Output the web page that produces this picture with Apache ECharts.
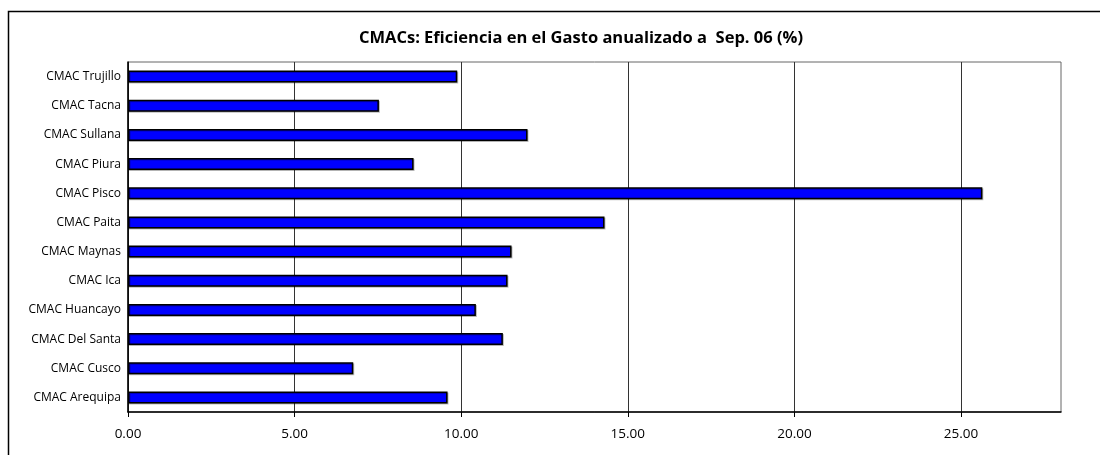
<!DOCTYPE html>
<html>
<head>
<meta charset="utf-8">
<script src="https://cdn.jsdelivr.net/npm/echarts@6/dist/echarts.min.js"></script>
<style>
  html, body { margin: 0; padding: 0; background: #fff; }
  #main { width: 1100px; height: 455px; }
</style>
</head>
<body>
<div id="main"></div>
<script>
// categorias (de arriba a abajo)
const cajas = ['CMAC Trujillo', 'CMAC Tacna', 'CMAC Sullana', 'CMAC Piura', 'CMAC Pisco', 'CMAC Paita',
  'CMAC Maynas', 'CMAC Ica', 'CMAC Huancayo', 'CMAC Del Santa', 'CMAC Cusco', 'CMAC Arequipa'];
// eficiencia en el gasto (%)
const eficiencia = [9.88, 7.53, 11.99, 8.57, 25.64, 14.30, 11.51, 11.39, 10.44, 11.25, 6.76, 9.59];
const ticksX = [0, 5, 10, 15, 20, 25];

const chart = echarts.init(document.getElementById('main'));
const fuente = '"Open Sans", "DejaVu Sans", sans-serif';

chart.setOption({
  animation: false,
  backgroundColor: '#fff',
  title: {
    text: 'CMACs: Eficiencia en el Gasto anualizado a  Sep. 06 (%)',
    left: 576, top: 25, textAlign: 'center',
    textStyle: { fontFamily: fuente, fontSize: 16.5, fontWeight: 'bold', color: '#000' }
  },
  graphic: [{
    type: 'rect', silent: true,
    shape: { x: 8.5, y: 11.5, width: 1200, height: 500 },
    style: { fill: 'none', stroke: '#000', lineWidth: 1.5 }
  }],
  grid: {
    left: 128, top: 62, right: 39, bottom: 43,
    show: true, borderColor: '#666', borderWidth: 1
  },
  xAxis: {
    type: 'value', min: 0, max: 28, interval: 5,
    axisLine: { show: true, lineStyle: { color: '#000', width: 1.5 } },
    axisTick: { show: true, length: 5, lineStyle: { color: '#000' }, customValues: ticksX },
    axisLabel: {
      margin: 15, color: '#000', fontFamily: fuente, fontSize: 13.5,
      customValues: ticksX,
      formatter: v => v.toFixed(2)
    },
    splitLine: { show: true, lineStyle: { color: '#333', width: 1 } }
  },
  yAxis: {
    type: 'category', data: cajas, inverse: true,
    axisLine: { show: true, lineStyle: { color: '#000', width: 1.5 } },
    axisTick: { show: false },
    axisLabel: { margin: 7, color: '#000', fontFamily: fuente, fontSize: 12 },
    splitLine: { show: false }
  },
  series: [{
    type: 'bar', data: eficiencia, barWidth: 12,
    itemStyle: { color: '#0000ff', borderColor: '#000', borderWidth: 1.5,
      shadowColor: 'rgba(0,0,0,0.25)', shadowOffsetX: 1, shadowOffsetY: 1 }
  }]
});
</script>
</body>
</html>
